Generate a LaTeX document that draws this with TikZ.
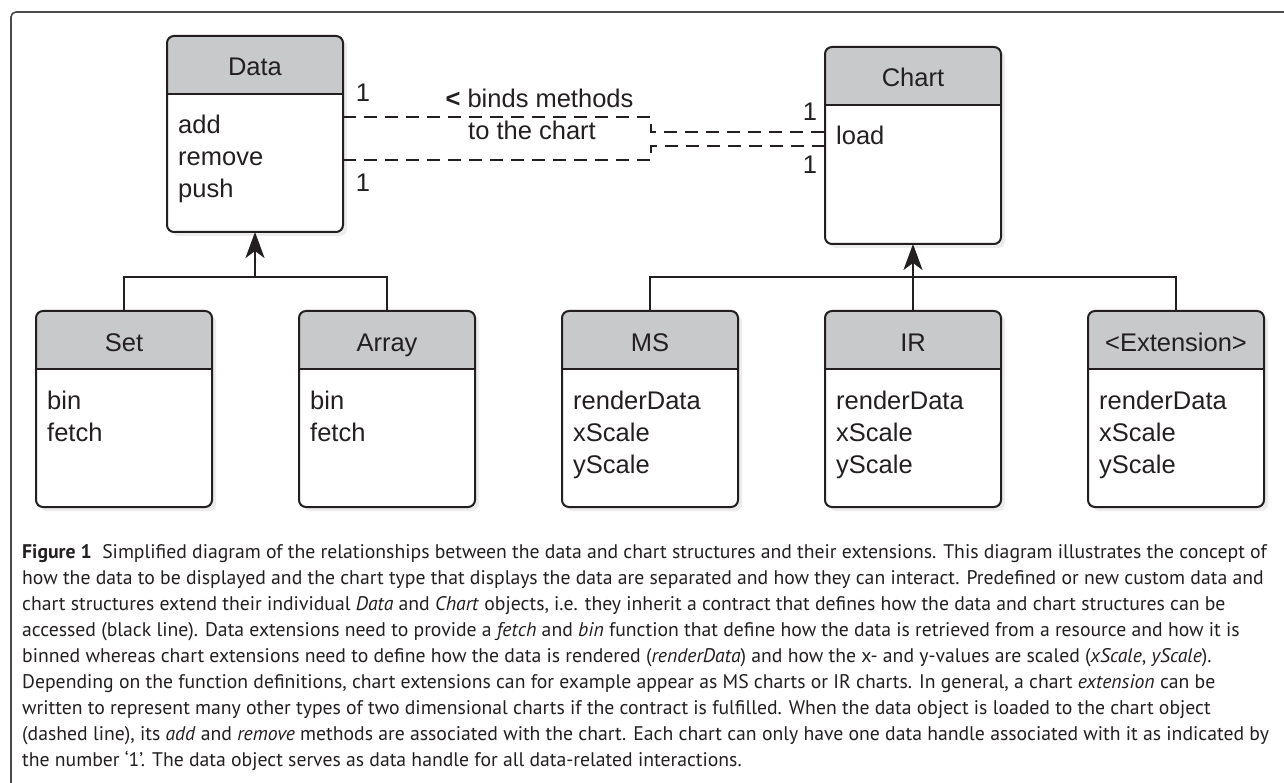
\documentclass[tikz,border=0pt]{standalone}
\usepackage{fontspec}
\setmainfont{Liberation Sans}
\newfontfamily\capfont{PT Sans}
\usetikzlibrary{arrows.meta,shadows}
\definecolor{ink}{HTML}{231F20}
\definecolor{hdr}{HTML}{C8C9CB}
\definecolor{framecol}{HTML}{4A4A4A}
\tikzset{
  boxbody/.style={anchor=north, minimum width=176pt, inner sep=0pt, outer sep=0pt,
    fill=white, rounded corners=7pt,
    drop shadow={opacity=0.15, shadow xshift=4pt, shadow yshift=-4pt}},
  boxline/.style={draw=ink, line width=2pt},
  txt/.style={font=\fontsize{25.5}{30}\selectfont, text=ink, inner sep=0pt},
  dashline/.style={draw=ink, line width=2pt, dash pattern=on 13pt off 8pt},
  inhline/.style={draw=ink, line width=2pt},
  inharrow/.style={-{Stealth[length=26pt, width=19pt, inset=7pt]}},
  captxt/.style={font=\capfont\fontsize{19.7}{26.1}\selectfont, text=ink, inner sep=0pt, align=left, anchor=north west}
}
\newcommand{\umlbox}[6]{%
  \node[boxbody, minimum height=#4] (#1) at (#2,#3) {};
  \begin{scope}
    \clip[rounded corners=7pt] (#1.north west) rectangle (#1.south east);
    \fill[hdr] (#1.north west) rectangle ([yshift=-58pt]#1.north east);
  \end{scope}
  \draw[boxline] ([yshift=-58pt]#1.north west) -- ([yshift=-58pt]#1.north east);
  \draw[boxline, rounded corners=7pt] (#1.north west) rectangle (#1.south east);
  \node[txt, anchor=base] (#1-t) at ([yshift=-40pt]#1.north) {#5};
  \foreach \m [count=\i] in {#6} {%
    \node[txt, anchor=base west] (#1-m\i) at ([xshift=11pt, yshift={-98pt-32pt*(\i-1)}]#1.north west) {\m};}
}
\begin{document}
\begin{tikzpicture}[x=1pt, y=-1pt]
\useasboundingbox (0,0) rectangle (1284,783);
\fill[white] (0,0) rectangle (1284,783);
% frame
\draw[framecol, line width=1.6pt, rounded corners=5pt] (1284,12) -- (11,12) -- (11,783);

% boxes
\umlbox{data}{255}{36}{196}{Data}{add,remove,push}
\umlbox{chart}{913}{47}{197}{Chart}{load}
\umlbox{set}{124}{311}{196}{Set}{bin,fetch}
\umlbox{array}{387}{311}{196}{Array}{bin,fetch}
\umlbox{ms}{650}{311}{196}{MS}{renderData,xScale,yScale}
\umlbox{ir}{913}{311}{196}{IR}{renderData,xScale,yScale}
\umlbox{ext}{1176}{311}{196}{<Extension>}{renderData,xScale,yScale}

% association (dashed)
\draw[dashline] (data.east |- 0,117) -- (651,117) -- (651,132) -- (chart.west |- 0,132);
\draw[dashline] (data.east |- 0,160) -- (651,160) -- (651,146) -- (chart.west |- 0,146);
\node[txt, anchor=base] (d1a) at (363,102) {1};
\node[txt, anchor=base] (d1b) at (363,192) {1};
\node[txt, anchor=base] (c1a) at (810,121) {1};
\node[txt, anchor=base] (c1b) at (810,174) {1};
\node[txt, anchor=base] (bind1) at (539.5,108) {\textbf{<} binds methods};
\node[txt, anchor=base] (bind2) at (532,140) {to the chart};

% inheritance
\coordinate (dj) at (data.south |- 0,277);
\draw[inhline] (set.north) |- (dj) -| (array.north);
\draw[inhline, inharrow] (dj) -- (data.south);
\coordinate (cj) at (chart.south |- 0,277);
\draw[inhline] (ms.north) |- (cj) -| (ext.north);
\draw[inhline, inharrow] (ir.north) -- (chart.south);

% caption
\node[captxt] (cap) at (22,539.7) {\strut\textbf{Figure 1}\ \ Simplified diagram of the relationships between the data and chart structures and their extensions. This diagram illustrates the concept of\\
how the data to be displayed and the chart type that displays the data are separated and how they can interact. Predefined or new custom data and\\
chart structures extend their individual \textit{Data} and \textit{Chart} objects, i.e. they inherit a contract that defines how the data and chart structures can be\\
accessed (black line). Data extensions need to provide a \textit{fetch} and \textit{bin} function that define how the data is retrieved from a resource and how it is\\
binned whereas chart extensions need to define how the data is rendered (\textit{renderData}) and how the x- and y-values are scaled (\textit{xScale}, \textit{yScale}).\\
Depending on the function definitions, chart extensions can for example appear as MS charts or IR charts. In general, a chart \textit{extension} can be\\
written to represent many other types of two dimensional charts if the contract is fulfilled. When the data object is loaded to the chart object\\
(dashed line), its \textit{add} and \textit{remove} methods are associated with the chart. Each chart can only have one data handle associated with it as indicated by\\
the number ‘1’. The data object serves as data handle for all data-related interactions.};
\end{tikzpicture}
\end{document}
